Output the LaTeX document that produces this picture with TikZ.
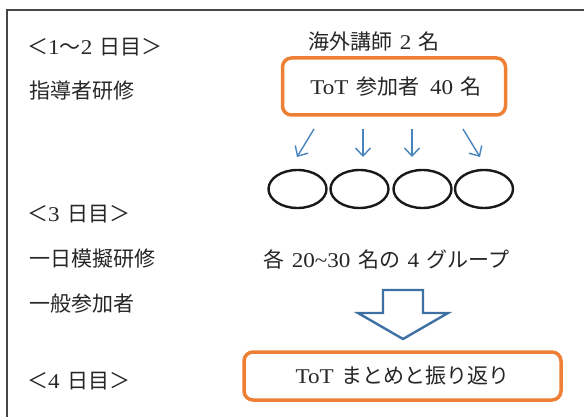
\documentclass[tikz,border=0pt]{standalone}
\usepackage{fontspec}
\setmainfont{Liberation Serif}[FakeStretch=1.1]
\newfontfamily\jpfont{Noto Sans CJK JP}
\newcommand\J[1]{{\jpfont #1}}
\newcommand\gp{\hspace{0.36em}}
\usetikzlibrary{arrows.meta,shapes.geometric}
\definecolor{boxorange}{RGB}{237,128,52}
\definecolor{arrowblue}{RGB}{72,132,190}
\definecolor{bigblue}{RGB}{62,112,164}
\definecolor{framegray}{RGB}{70,70,70}
\begin{document}
\begin{tikzpicture}[x=1pt,y=-1pt,
  lbl/.style={anchor=west,inner sep=0pt,font=\fontsize{21}{25}\selectfont,text=black!85},
  obox/.style={draw=boxorange,line width=3.5pt,rounded corners=9pt,inner sep=0pt,
    font=\fontsize{21}{25}\selectfont,text=black!85},
  grp/.style={ellipse,draw=black!90,line width=2.4pt,minimum width=58pt,minimum height=38pt,inner sep=0pt},
  thinarrow/.style={draw=arrowblue,line width=1.4pt,-{Straight Barb[length=8pt,width=15pt]}},
  bigarrow/.style={draw=bigblue,line width=2.4pt,fill=white,line join=miter},
  frameline/.style={draw=framegray,line width=1.2pt}]
\useasboundingbox (0,0) rectangle (584,417);
\fill[white] (0,0) rectangle (584,417);
% frame
\coordinate (fbl) at (7,417);
\coordinate (ftl) at (7,10);
\coordinate (ftr) at (584,10);
\draw[frameline] (fbl) -- (ftl) -- (ftr);
% left column
\node[lbl] (d12) at (27,47) {\J{＜}1\J{～}2\gp\J{日目＞}};
\node[lbl] (shido) at (29,91) {\J{指導者研修}};
\node[lbl] (d3) at (27,214) {\J{＜}3\gp\J{日目＞}};
\node[lbl] (mogi) at (29,259) {\J{一日模擬研修}};
\node[lbl] (ippan) at (29,304) {\J{一般参加者}};
\node[lbl] (d4) at (27,381) {\J{＜}4\gp\J{日目＞}};
% right column
\node[lbl] (koshi) at (308,42) {\J{海外講師}\gp 2\gp\J{名}};
\node[obox,minimum width=223pt,minimum height=57pt] (tot) at (394,86.5) {\hspace{4pt}ToT\gp\J{参加者}\hspace{11pt}40\gp\J{名}};
% arrows
\coordinate (a1s) at (314,129); \coordinate (a1e) at (297,157);
\coordinate (a2s) at (363,129); \coordinate (a2e) at (363,157);
\coordinate (a3s) at (412,129); \coordinate (a3e) at (412,157);
\coordinate (a4s) at (463,129); \coordinate (a4e) at (480,157);
\draw[thinarrow] (a1s) -- (a1e);
\draw[thinarrow] (a2s) -- (a2e);
\draw[thinarrow] (a3s) -- (a3e);
\draw[thinarrow] (a4s) -- (a4e);
% groups
\node[grp] (g1) at (297.5,189) {};
\node[grp] (g2) at (359.5,189) {};
\node[grp] (g3) at (422.5,189) {};
\node[grp] (g4) at (484,189) {};
\node[lbl] (kaku) at (263,259) {\J{各}\gp 20\textasciitilde30\gp\J{名の}\gp 4\gp\J{グループ}};
% big arrow
\draw[bigarrow] (383,290) -- (423,290) -- (423,313) -- (448,313) -- (403,339) -- (358,313) -- (383,313) -- cycle;
% final box
\node[obox,minimum width=317pt,minimum height=48pt] (matome) at (402.5,376) {ToT\gp\J{まとめと振り返り}};
\end{tikzpicture}
\end{document}
